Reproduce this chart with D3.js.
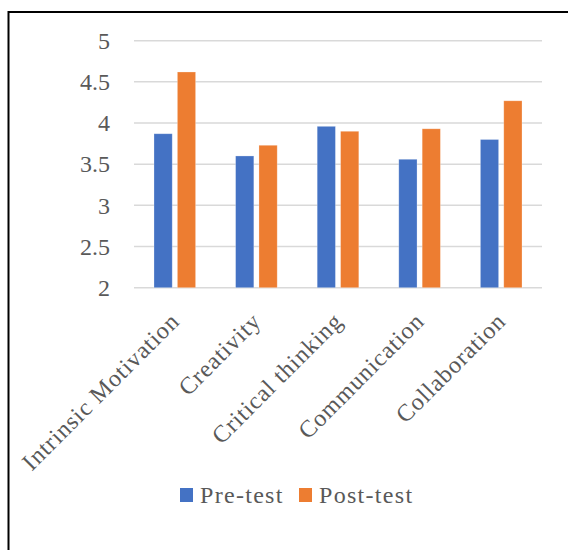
<!DOCTYPE html>
<html>
<head>
<meta charset="utf-8">
<script src="https://cdn.jsdelivr.net/npm/d3@7"></script>
<style>
  html, body { margin: 0; padding: 0; background: #fff; }
  svg { display: block; }
</style>
</head>
<body>
<svg id="chart" width="568" height="550"></svg>
<script>
// Mean scores per skill, before and after the intervention
const categories = ["Intrinsic Motivation", "Creativity", "Critical thinking", "Communication", "Collaboration"];
const seriesNames = ["Pre-test", "Post-test"];
const preTest  = [3.87, 3.60, 3.96, 3.56, 3.80];
const postTest = [4.62, 3.73, 3.90, 3.93, 4.27];
const yTicks = [2, 2.5, 3, 3.5, 4, 4.5, 5];
const tickLabels = ["2", "2.5", "3", "3.5", "4", "4.5", "5"];
const colors = ["#4472C4", "#ED7D31"];

const FONT = "'Liberation Serif', 'Times New Roman', serif";
const TEXT_COLOR = "#595959";

const values = [preTest, postTest];
const rows = categories.map((c, i) => ({
  category: c,
  vals: seriesNames.map((s, j) => ({ series: s, value: values[j][i], color: colors[j] }))
}));

const svg = d3.select("#chart");

// Outer frame (top and left edges)
svg.append("path")
  .attr("d", "M8.5,550 V12 H568")
  .attr("fill", "none")
  .attr("stroke", "#000")
  .attr("stroke-width", 2);

const plot = { left: 134, right: 542, top: 40.7, bottom: 287.7 };

const x0 = d3.scaleBand().domain(categories).range([plot.left, plot.right]).padding(0);
const bw = x0.bandwidth();
const x1 = d3.scaleBand().domain(seriesNames).range([bw * 0.245, bw * 0.755]).paddingInner(0.22);
const y = d3.scaleLinear().domain([2, 5]).range([plot.bottom, plot.top]);

// Horizontal gridlines
svg.append("g")
  .selectAll("line")
  .data(yTicks)
  .join("line")
  .attr("x1", plot.left)
  .attr("x2", plot.right)
  .attr("y1", d => y(d))
  .attr("y2", d => y(d))
  .attr("stroke", "#D9D9D9")
  .attr("stroke-width", 1.5);

// Y tick labels
svg.append("g")
  .selectAll("text")
  .data(yTicks)
  .join("text")
  .attr("x", 110)
  .attr("y", d => y(d))
  .attr("dy", "0.34em")
  .attr("text-anchor", "end")
  .attr("font-family", FONT)
  .attr("font-size", 24)
  .attr("fill", TEXT_COLOR)
  .text((d, i) => tickLabels[i]);

// Bars
const groups = svg.append("g")
  .selectAll("g")
  .data(rows)
  .join("g")
  .attr("transform", d => `translate(${x0(d.category)},0)`);

groups.selectAll("rect")
  .data(d => d.vals)
  .join("rect")
  .attr("x", d => x1(d.series))
  .attr("width", x1.bandwidth())
  .attr("y", d => y(d.value))
  .attr("height", d => y(2) - y(d.value))
  .attr("fill", d => d.color)
  .attr("stroke", "#ffffff")
  .attr("stroke-opacity", 0.35)
  .attr("stroke-width", 0.75);

// Rotated category labels
svg.append("g")
  .selectAll("text")
  .data(categories)
  .join("text")
  .attr("transform", d => `translate(${x0(d) + bw / 2 + 6},${plot.bottom + 35}) rotate(-45)`)
  .attr("text-anchor", "end")
  .attr("font-family", FONT)
  .attr("font-size", 24)
  .attr("letter-spacing", 0.9)
  .attr("fill", TEXT_COLOR)
  .text(d => d);

// Legend
const legend = svg.append("g").attr("transform", "translate(180,488)");
const legendX = [0, 119];
seriesNames.forEach((s, i) => {
  const g = legend.append("g").attr("transform", `translate(${legendX[i]},0)`);
  g.append("rect").attr("width", 13).attr("height", 14).attr("fill", colors[i]);
  g.append("text")
    .attr("x", 20)
    .attr("y", 15)
    .attr("font-family", FONT)
    .attr("font-size", 24)
    .attr("letter-spacing", 1.3)
    .attr("fill", TEXT_COLOR)
    .text(s);
});
</script>
</body>
</html>
